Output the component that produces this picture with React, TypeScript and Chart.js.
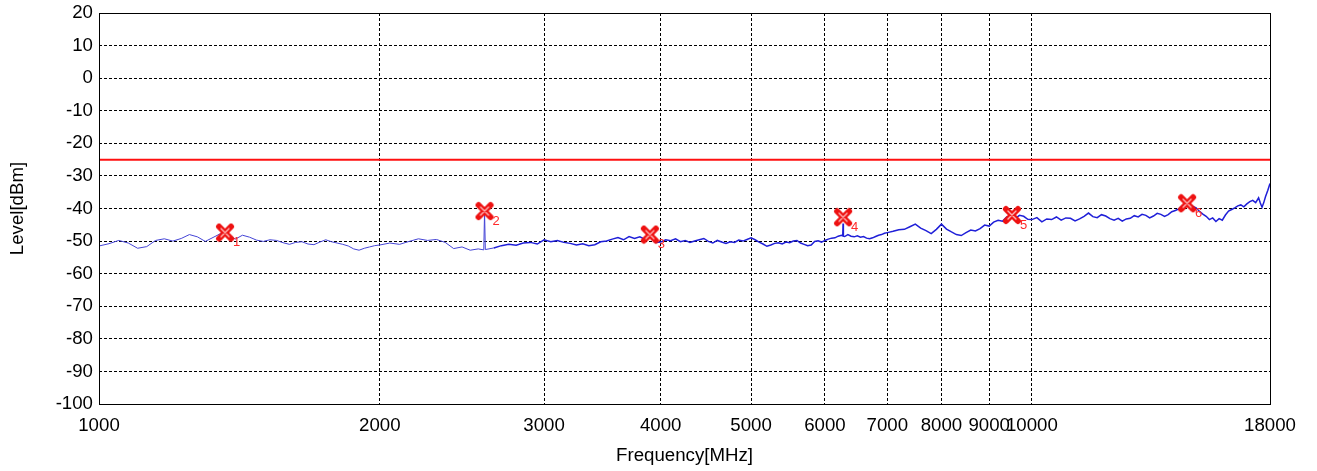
import React, { useEffect, useRef } from 'react';
import { Chart, registerables } from 'chart.js';

Chart.register(...registerables);

// Measured trace (frequency in MHz, level in dBm), in four sweep bands
const freqBand1 = [
  1000, 1025, 1050, 1075, 1100, 1125, 1150, 1175, 1200, 1225, 1250, 1275, 1300, 1325, 1350, 1365, 1375,
  1400, 1425, 1450, 1475, 1500, 1525, 1550, 1575, 1600, 1625, 1650, 1675, 1700, 1725, 1750, 1775, 1800,
  1825, 1850, 1875, 1900, 1925, 1950, 1975,
];
const levelBand1 = [
  -51.5, -50.8, -49.8, -50.6, -52.2, -51.7, -49.8, -49.3, -50.0, -49.2, -48.0, -48.7, -50.1, -48.9, -47.7, -47.5, -47.9,
  -49.4, -48.2, -48.8, -49.7, -50.1, -49.6, -49.8, -50.5, -51.0, -50.4, -50.2, -50.9, -51.1, -50.3, -49.6, -50.2, -50.6,
  -51.0, -51.5, -52.4, -52.8, -52.2, -51.8, -51.4,
];

const freqBand2 = [
  2000, 2050, 2100, 2150, 2200, 2250, 2300, 2350, 2400, 2450, 2500, 2550, 2585, 2590, 2595, 2650, 2700, 2750,
  2800, 2850, 2900, 2950, 3000, 3050, 3100, 3150, 3200, 3250, 3300, 3350, 3400, 3450, 3500, 3550, 3600,
  3650, 3700, 3750, 3800, 3850, 3895, 3950,
];
const levelBand2 = [
  -51.2, -50.6, -51.0, -50.1, -49.3, -49.8, -49.5, -50.4, -52.3, -51.8, -52.8, -52.4, -52.7, -41.0, -52.6, -52.1, -51.4, -51.0,
  -51.3, -50.6, -50.4, -50.9, -49.6, -50.2, -49.8, -50.4, -50.7, -51.2, -50.8, -51.4, -51.1, -50.2, -50.0, -49.4, -48.9,
  -49.6, -48.6, -49.2, -48.7, -49.5, -48.3, -50.4,
];

const freqBand3 = [
  4000, 4050, 4100, 4150, 4200, 4250, 4300, 4350, 4400, 4450, 4500, 4550, 4600, 4650, 4700, 4750, 4800,
  4850, 4900, 4950, 5000, 5050, 5100, 5150, 5200, 5250, 5300, 5350, 5400, 5450, 5500, 5550, 5600, 5650,
  5700, 5750, 5800, 5850, 5900, 5950, 6000, 6050, 6100, 6150, 6200, 6250, 6270, 6275, 6280, 6300, 6350,
  6400, 6450, 6500, 6550, 6600, 6650, 6700, 6750, 6800, 6850, 6900, 6950, 7000, 7100, 7200, 7300, 7400,
  7500, 7600, 7700, 7800, 7900,
];
const levelBand3 = [
  -50.3, -49.6, -49.9, -49.3, -50.2, -49.8, -50.4, -50.0, -49.6, -49.2, -50.1, -50.6, -49.8, -50.3, -50.7, -50.2, -50.4,
  -49.7, -50.0, -49.5, -49.0, -49.6, -50.3, -50.9, -51.6, -51.2, -50.7, -50.5, -50.9, -50.3, -50.5, -50.0, -49.8, -50.6,
  -51.0, -51.4, -51.2, -50.1, -49.9, -50.3, -49.8, -49.4, -49.1, -49.0, -48.5, -48.2, -48.4, -44.6, -48.5, -48.6, -48.0,
  -48.5, -48.7, -48.4, -48.8, -48.6, -49.1, -49.3, -49.0, -48.6, -48.2, -48.0, -47.6, -47.4, -47.0, -46.5, -46.4, -45.6,
  -44.8, -46.0, -46.8, -47.7, -46.4,
];

const freqBand4 = [
  8000, 8100, 8200, 8300, 8400, 8500, 8600, 8700, 8800, 8900, 9000, 9100, 9200, 9300, 9400, 9520, 9600,
  9700, 9800, 9900, 10000, 10125, 10250, 10375, 10500, 10625, 10750, 10875, 11000, 11125, 11250, 11375,
  11500, 11625, 11750, 11875, 12000, 12125, 12250, 12375, 12500, 12625, 12750, 12875, 13000, 13125, 13250,
  13375, 13500, 13625, 13750, 13875, 14000, 14125, 14250, 14375, 14500, 14670, 14750, 14875, 15000, 15125,
  15250, 15375, 15500, 15625, 15750, 15875, 16000, 16125, 16250, 16375, 16500, 16625, 16750, 16875, 17000,
  17125, 17250, 17375, 17500, 17575, 17650, 17725, 17800, 17900, 18000,
];
const levelBand4 = [
  -44.8, -46.3, -47.2, -48.0, -48.3, -47.4, -46.6, -46.9, -46.2, -45.1, -45.4, -44.2, -43.6, -43.9, -42.6, -42.3, -43.0,
  -42.1, -42.4, -43.3, -43.4, -42.8, -44.1, -43.2, -43.4, -42.6, -43.6, -42.9, -43.0, -43.8, -43.2, -42.4,
  -41.4, -42.5, -42.8, -41.9, -42.3, -43.1, -43.6, -43.0, -43.9, -43.2, -43.0, -42.2, -42.6, -41.8, -42.1,
  -42.9, -42.3, -41.5, -41.8, -42.4, -41.9, -41.0, -40.6, -40.1, -39.3, -38.6, -39.0, -39.4, -39.8, -40.9,
  -41.7, -42.4, -43.4, -42.9, -44.0, -43.1, -43.6, -42.0, -40.8, -40.3, -39.8, -39.2, -38.9, -39.5, -38.6,
  -37.9, -37.5, -38.2, -36.7, -38.3, -39.6, -38.2, -36.4, -34.5, -32.3,
];

// Limit line
const limitFreq = [1000, 18000];
const limitLevel = [-25, -25];

// Markers
const markerFreq = [1365, 2590, 3895, 6275, 9520, 14670];
const markerLevel = [-47.4, -40.8, -48.0, -42.7, -42.0, -38.4];
const markerLabels = ['1', '2', '3', '4', '5', '6'];

// Axes
const xTicks = [1000, 2000, 3000, 4000, 5000, 6000, 7000, 8000, 9000, 10000, 18000];
const xMin = 1000;
const xMax = 18000;
const yMin = -100;
const yMax = 20;
const yStep = 10;

const FONT = '"Liberation Sans", Arial, sans-serif';

function makeMarkerImage(): HTMLCanvasElement {
  const c = document.createElement('canvas');
  c.width = 20;
  c.height = 20;
  const g = c.getContext('2d')!;
  g.lineCap = 'round';
  g.strokeStyle = '#ee1111';
  g.lineWidth = 6;
  g.beginPath();
  g.moveTo(4, 4); g.lineTo(16, 16);
  g.moveTo(16, 4); g.lineTo(4, 16);
  g.stroke();
  g.strokeStyle = '#ffb8b8';
  g.lineWidth = 1.4;
  g.beginPath();
  g.moveTo(6, 6); g.lineTo(14, 14);
  g.moveTo(14, 6); g.lineTo(6, 14);
  g.stroke();
  return c;
}

const framePlugin = {
  id: 'frameAndLabels',
  afterDatasetsDraw(chart: any) {
    const { ctx } = chart;
    const xs = chart.scales.x;
    const ys = chart.scales.y;
    ctx.save();
    ctx.fillStyle = '#ff2a2a';
    ctx.font = `13px ${FONT}`;
    ctx.textAlign = 'left';
    ctx.textBaseline = 'middle';
    markerFreq.forEach((f, i) => {
      const px = xs.getPixelForValue(f);
      const py = ys.getPixelForValue(markerLevel[i]);
      ctx.fillText(markerLabels[i], px + 8, py + 10);
    });
    ctx.restore();
  },
  afterDraw(chart: any) {
    const { ctx, chartArea } = chart;
    ctx.save();
    ctx.strokeStyle = '#000';
    ctx.lineWidth = 1;
    ctx.strokeRect(
      Math.round(chartArea.left) + 0.5,
      Math.round(chartArea.top) + 0.5,
      Math.round(chartArea.right - chartArea.left),
      Math.round(chartArea.bottom - chartArea.top)
    );
    ctx.restore();
  },
};

export default function App() {
  const ref = useRef<HTMLCanvasElement | null>(null);

  useEffect(() => {
    if (!ref.current) return;
    const markerImg = makeMarkerImage();
    const freqs = [...freqBand1, ...freqBand2, ...freqBand3, ...freqBand4];
    const levels = [...levelBand1, ...levelBand2, ...levelBand3, ...levelBand4];
    const trace = freqs.map((f, i) => ({ x: f, y: levels[i] }));
    const limit = limitFreq.map((f, i) => ({ x: f, y: limitLevel[i] }));
    const markers = markerFreq.map((f, i) => ({ x: f, y: markerLevel[i] }));

    const chart = new Chart(ref.current, {
      type: 'line',
      data: {
        datasets: [
          {
            label: 'Markers',
            data: markers,
            showLine: false,
            pointStyle: markerImg as any,
            pointRadius: 10,
            order: 0,
          },
          {
            label: 'Trace',
            data: trace,
            borderColor: '#1f1fd8',
            borderWidth: 1.4,
            segment: {
              borderWidth: (c: any) => (c.p0.parsed.x < 2600 ? 1 : 1.5),
              borderColor: (c: any) => (c.p0.parsed.x < 2600 ? '#4444d6' : '#1f1fd8'),
            },
            pointRadius: 0,
            tension: 0,
            order: 1,
          },
          {
            label: 'Limit',
            data: limit,
            borderColor: '#ff1010',
            borderWidth: 2,
            pointRadius: 0,
            order: 2,
          },
        ],
      },
      options: {
        animation: false,
        responsive: false,
        layout: { padding: { left: 0, top: 13, right: 47, bottom: 0 } },
        plugins: {
          legend: { display: false },
          tooltip: { enabled: false },
        },
        scales: {
          x: {
            type: 'logarithmic',
            min: xMin,
            max: xMax,
            afterBuildTicks: (axis: any) => {
              axis.ticks = xTicks.map((v) => ({ value: v }));
            },
            afterFit: (scale: any) => {
              scale.height = 67;
              scale.paddingLeft = 0;
              scale.paddingRight = 0;
            },
            ticks: {
              autoSkip: false,
              maxRotation: 0,
              minRotation: 0,
              padding: 11,
              color: '#000',
              font: { family: FONT, size: 18.67 },
              callback: (v: any) => String(v),
            },
            grid: {
              drawTicks: false,
              color: (c: any) =>
                c.tick && (c.tick.value === xMin || c.tick.value === xMax) ? 'rgba(0,0,0,0)' : '#000',
              lineWidth: 1,
            },
            border: { display: false, dash: [3, 2] },
            title: {
              display: true,
              text: 'Frequency[MHz]',
              color: '#000',
              font: { family: FONT, size: 18.67 },
              padding: { top: 0, bottom: 4 },
            },
          },
          y: {
            type: 'linear',
            min: yMin,
            max: yMax,
            afterFit: (scale: any) => {
              scale.width = 99;
              scale.paddingTop = 0;
              scale.paddingBottom = 0;
            },
            ticks: {
              stepSize: yStep,
              padding: 6,
              color: '#000',
              font: { family: FONT, size: 18.67 },
            },
            grid: {
              drawTicks: false,
              color: (c: any) =>
                c.tick && (c.tick.value === yMin || c.tick.value === yMax) ? 'rgba(0,0,0,0)' : '#000',
              lineWidth: 1,
            },
            border: { display: false, dash: [3, 2] },
            title: {
              display: true,
              text: 'Level[dBm]',
              color: '#000',
              font: { family: FONT, size: 18.67 },
              padding: { top: 7, bottom: 0 },
            },
          },
        },
      },
      plugins: [framePlugin],
    });
    return () => chart.destroy();
  }, []);

  return (
    <div style={{ position: 'fixed', left: 0, top: 0, width: 1317, height: 471, background: '#fff' }}>
      <canvas ref={ref} width={1317} height={471} style={{ display: 'block' }} />
    </div>
  );
}
